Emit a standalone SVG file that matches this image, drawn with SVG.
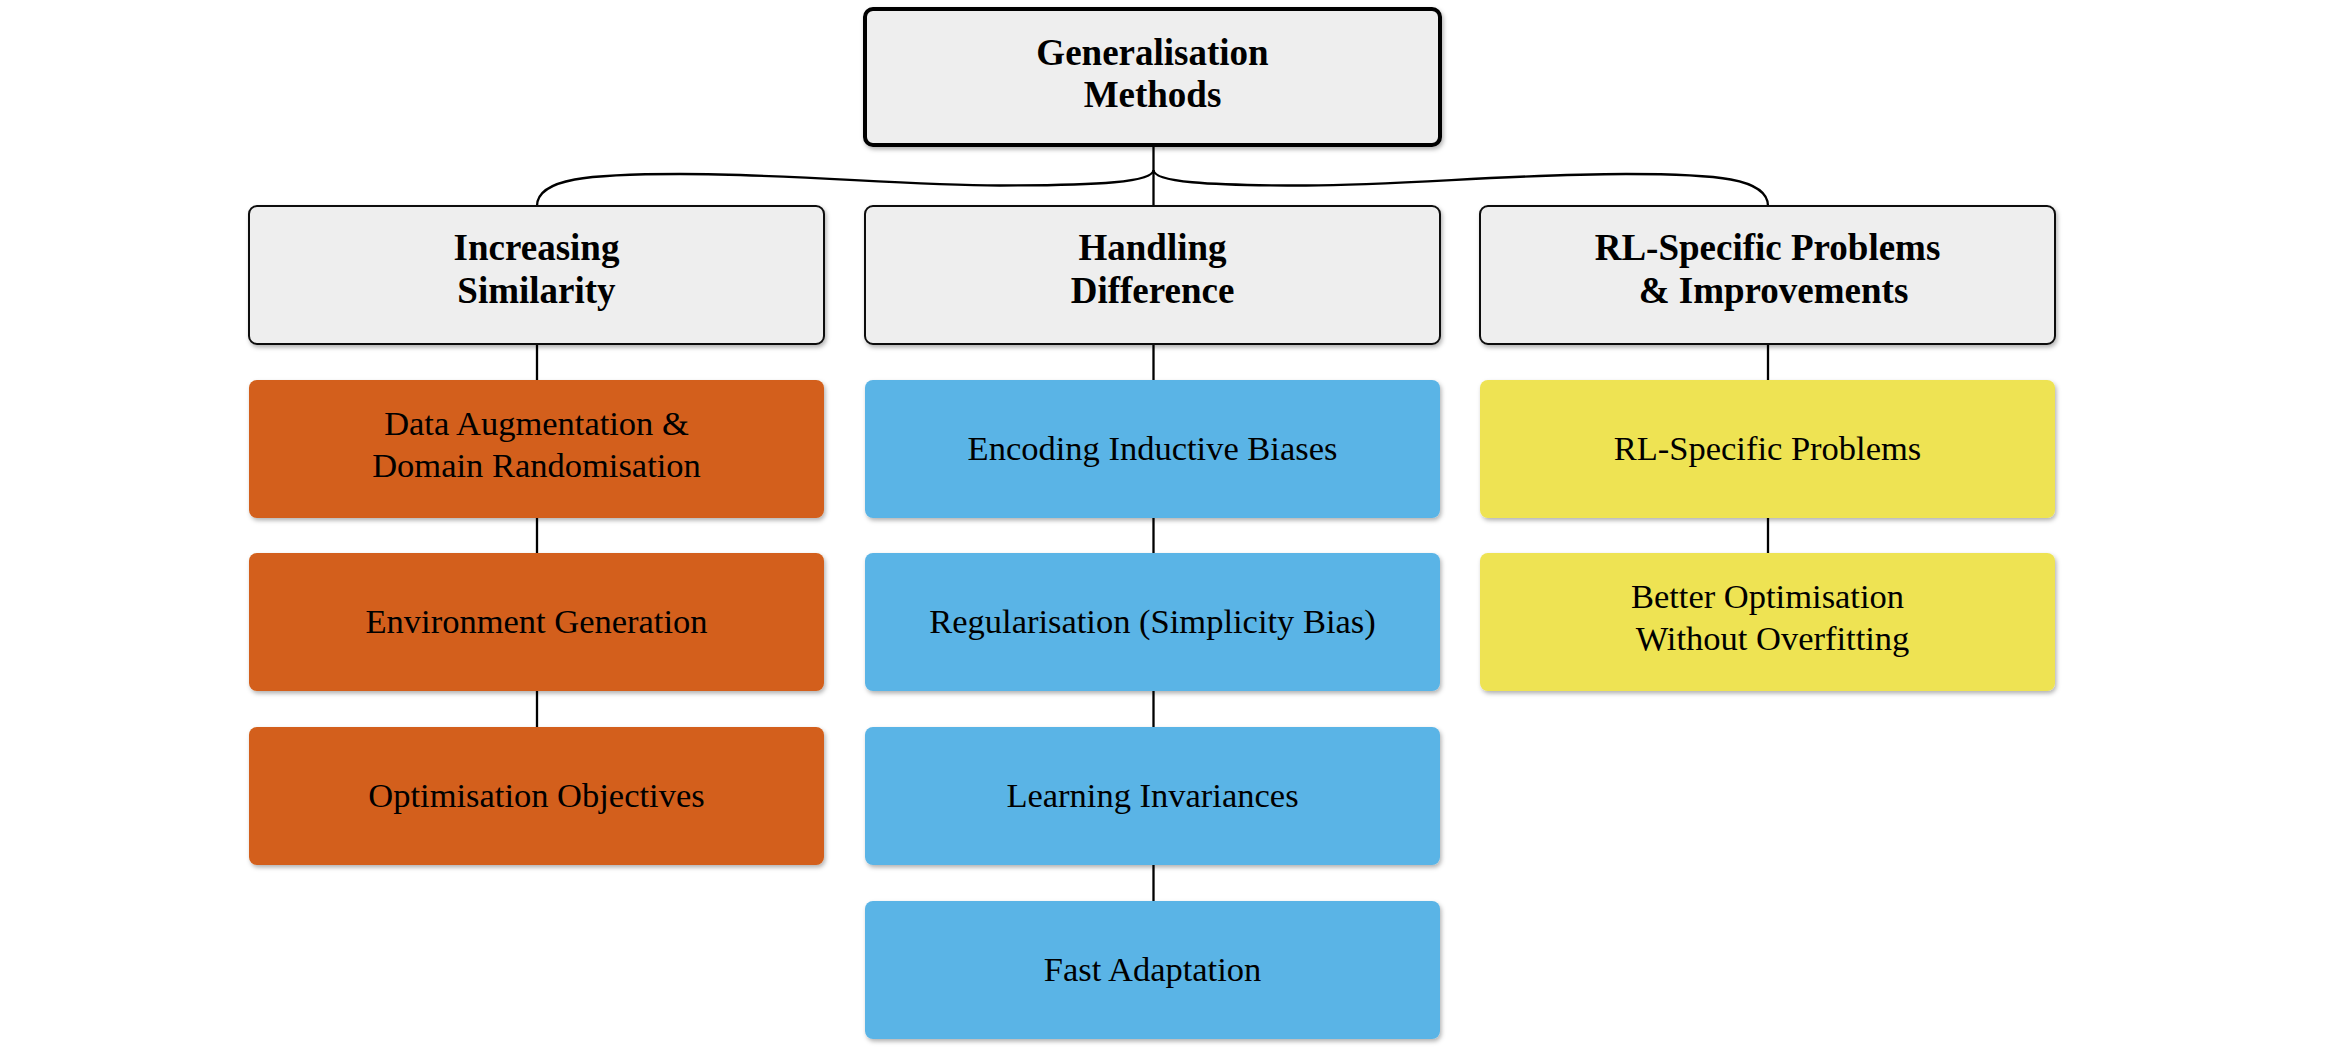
<svg xmlns="http://www.w3.org/2000/svg" width="2338" height="1054" viewBox="0 0 2338 1054">
<defs>
<filter id="sh" x="-5%" y="-10%" width="110%" height="125%">
<feDropShadow dx="1.5" dy="2.5" stdDeviation="2" flood-color="#000" flood-opacity="0.3"/>
</filter>
<style>
.con{fill:none;stroke:#000;stroke-width:2.3}
.root{fill:#eeeeee;stroke:#000;stroke-width:4}
.cat{fill:#eeeeee;stroke:#111;stroke-width:2}
.or{fill:#d35f1a}
.bl{fill:#5ab4e6}
.ye{fill:#eee352}
.b{font-family:"Liberation Serif",serif;font-weight:bold;font-size:37px;fill:#000;text-anchor:middle}
.r{font-family:"Liberation Serif",serif;font-size:34.5px;fill:#000;text-anchor:middle}
</style>
</defs>
<rect width="2338" height="1054" fill="#fff"/>
<g id="connectors">
<path class="con" d="M1153.5 145 V206"/>
<path class="con" d="M1153.5 170 C1153.5 182 1100 185.5 1000 185.5 C900 185.5 800 174 680 174 C590 174 537 178 537 206"/>
<path class="con" d="M1153.5 170 C1153.5 182 1206 185.5 1306 185.5 C1406 185.5 1506 174 1626 174 C1716 174 1768 178 1768 206"/>
<path class="con" d="M537 344 V380 M537 518 V553 M537 691 V727"/>
<path class="con" d="M1153.5 344 V380 M1153.5 518 V553 M1153.5 691 V727 M1153.5 865 V901"/>
<path class="con" d="M1768 344 V380 M1768 518 V553"/>
</g>
<g id="root">
<rect class="root" x="865" y="9" width="575" height="136" rx="8" filter="url(#sh)"/>
<text class="b" x="1152.5" y="65">Generalisation</text>
<text class="b" x="1152.5" y="107">Methods</text>
</g>
<g id="increasing-similarity">
<rect class="cat" x="249" y="206" width="575" height="138" rx="8" filter="url(#sh)"/>
<text class="b" x="536.5" y="260">Increasing</text>
<text class="b" x="536.5" y="303">Similarity</text>
</g>
<g id="handling-difference">
<rect class="cat" x="865" y="206" width="575" height="138" rx="8" filter="url(#sh)"/>
<text class="b" x="1152.5" y="260">Handling</text>
<text class="b" x="1152.5" y="303">Difference</text>
</g>
<g id="rl-specific">
<rect class="cat" x="1480" y="206" width="575" height="138" rx="8" filter="url(#sh)"/>
<text class="b" x="1767.5" y="260">RL-Specific Problems</text>
<text class="b" x="1773.5" y="303">&amp; Improvements</text>
</g>
<g id="data-augmentation">
<rect class="or" x="249" y="380" width="575" height="138" rx="8" filter="url(#sh)"/>
<text class="r" x="536.5" y="435">Data Augmentation &amp;</text>
<text class="r" x="536.5" y="477">Domain Randomisation</text>
</g>
<g id="environment-generation">
<rect class="or" x="249" y="553" width="575" height="138" rx="8" filter="url(#sh)"/>
<text class="r" x="536.5" y="633">Environment Generation</text>
</g>
<g id="optimisation-objectives">
<rect class="or" x="249" y="727" width="575" height="138" rx="8" filter="url(#sh)"/>
<text class="r" x="536.5" y="807">Optimisation Objectives</text>
</g>
<g id="encoding-inductive-biases">
<rect class="bl" x="865" y="380" width="575" height="138" rx="8" filter="url(#sh)"/>
<text class="r" x="1152.5" y="460">Encoding Inductive Biases</text>
</g>
<g id="regularisation">
<rect class="bl" x="865" y="553" width="575" height="138" rx="8" filter="url(#sh)"/>
<text class="r" x="1152.5" y="633">Regularisation (Simplicity Bias)</text>
</g>
<g id="learning-invariances">
<rect class="bl" x="865" y="727" width="575" height="138" rx="8" filter="url(#sh)"/>
<text class="r" x="1152.5" y="807">Learning Invariances</text>
</g>
<g id="fast-adaptation">
<rect class="bl" x="865" y="901" width="575" height="138" rx="8" filter="url(#sh)"/>
<text class="r" x="1152.5" y="981">Fast Adaptation</text>
</g>
<g id="rl-specific-problems">
<rect class="ye" x="1480" y="380" width="575" height="138" rx="8" filter="url(#sh)"/>
<text class="r" x="1767.5" y="460">RL-Specific Problems</text>
</g>
<g id="better-optimisation">
<rect class="ye" x="1480" y="553" width="575" height="138" rx="8" filter="url(#sh)"/>
<text class="r" x="1767.5" y="608">Better Optimisation</text>
<text class="r" x="1772.5" y="650">Without Overfitting</text>
</g>
</svg>
